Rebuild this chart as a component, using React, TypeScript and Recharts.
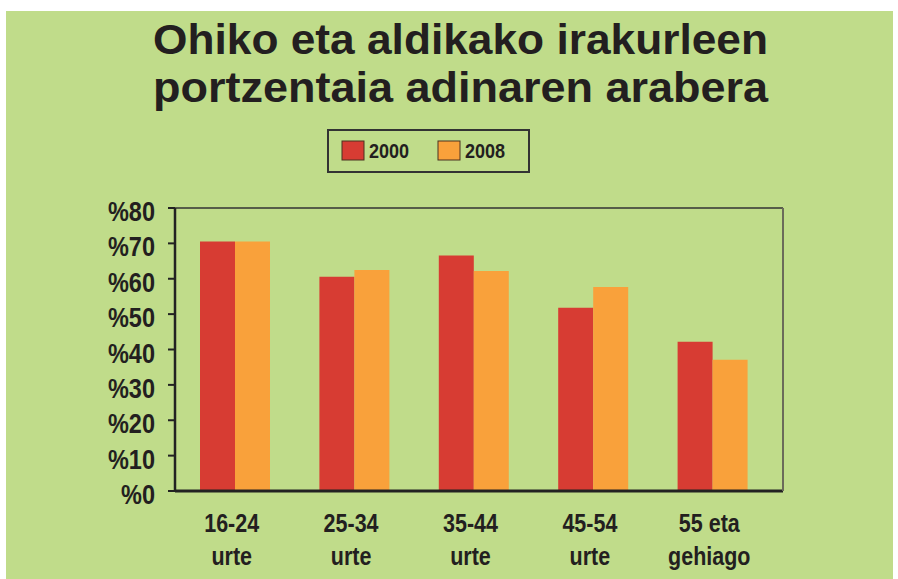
import React from "react";
import { BarChart, Bar, XAxis, YAxis, CartesianGrid } from "recharts";

const categories = ["16-24 urte", "25-34 urte", "35-44 urte", "45-54 urte", "55 eta gehiago"];
const labelLines = [
  ["16-24", "urte"],
  ["25-34", "urte"],
  ["35-44", "urte"],
  ["45-54", "urte"],
  ["55 eta", "gehiago"],
];
const series2000 = [70.5, 60.6, 66.6, 51.8, 42.2];
const series2008 = [70.5, 62.5, 62.2, 57.7, 37.1];
const seriesNames = ["2000", "2008"];
const yTicks = [0, 10, 20, 30, 40, 50, 60, 70, 80];
const titleLines = ["Ohiko eta aldikako irakurleen", "portzentaia adinaren arabera"];

const data = categories.map((c, i) => ({
  name: c,
  lines: labelLines[i],
  s2000: series2000[i],
  s2008: series2008[i],
}));

const FONT = "'Liberation Sans', Arial, Helvetica, sans-serif";
const TEXT = "#231f20";
const RED = "#d73c33";
const ORANGE = "#f9a13b";
const GREEN = "#c0dc8a";

const YTick = (props: any) => {
  const { x, y, payload } = props;
  return (
    <text
      transform={`translate(${x}, ${y + 13}) scale(0.84, 1)`}
      x={0}
      y={0}
      textAnchor="end"
      fontFamily={FONT}
      fontWeight="bold"
      fontSize={28}
      fill={TEXT}
    >
      {`%${payload.value}`}
    </text>
  );
};

const XTick = (props: any) => {
  const { x, y, index } = props;
  const lines = labelLines[index] || [];
  return (
    <g>
      {lines.map((ln: string, i: number) => (
        <text
          key={i}
          transform={`translate(${x - 3}, ${y + 41 + i * 33}) scale(0.86, 1)`}
          x={0}
          y={0}
          textAnchor="middle"
          fontFamily={FONT}
          fontWeight="bold"
          fontSize={25}
          fill={TEXT}
        >
          {ln}
        </text>
      ))}
    </g>
  );
};

export default function App() {
  return (
    <div style={{ position: "absolute", left: 0, top: 0, width: 898, height: 579, background: "#ffffff", overflow: "hidden" }}>
      <div style={{ position: "absolute", left: 6, top: 11, width: 887, height: 568, background: GREEN }} />
      <div style={{ position: "absolute", left: 0, top: 0 }}>
        <BarChart
          width={898}
          height={579}
          data={data}
          margin={{ top: 208, right: 0, bottom: 0, left: 0 }}
          barGap={0}
          barSize={35}
        >
          <CartesianGrid vertical={false} stroke="#333333" strokeWidth={1.3} />
          <XAxis
            dataKey="name"
            axisLine={{ stroke: "#222222", strokeWidth: 3 }}
            tickLine={false}
            tickSize={0}
            tickMargin={0}
            height={88}
            interval={0}
            padding={{ left: 0, right: 11 }}
            tick={<XTick />}
          />
          <YAxis
            yAxisId="left"
            width={175}
            domain={[0, 80]}
            ticks={yTicks}
            interval={0}
            axisLine={{ stroke: "#222222", strokeWidth: 2.5 }}
            tickLine={{ stroke: "#222222", strokeWidth: 2 }}
            tickSize={7}
            tickMargin={13}
            tick={<YTick />}
          />
          <YAxis
            yAxisId="right"
            orientation="right"
            width={115}
            domain={[0, 80]}
            ticks={yTicks}
            tick={false}
            tickLine={false}
            axisLine={{ stroke: "#6b6b5a", strokeWidth: 2 }}
          />
          <Bar yAxisId="left" dataKey="s2000" name={seriesNames[0]} fill={RED} isAnimationActive={false} />
          <Bar yAxisId="left" dataKey="s2008" name={seriesNames[1]} fill={ORANGE} isAnimationActive={false} />
        </BarChart>
      </div>
      <svg
        width={898}
        height={579}
        style={{ position: "absolute", left: 0, top: 0, pointerEvents: "none" }}
      >
        {titleLines.map((t, i) => (
          <text
            key={i}
            x={153}
            y={54 + i * 48}
            textLength={615}
            lengthAdjust="spacingAndGlyphs"
            fontFamily={FONT}
            fontWeight="bold"
            fontSize={42}
            fill={TEXT}
          >
            {t}
          </text>
        ))}
        <rect x={328} y={130} width={201} height={42} fill="none" stroke="#333333" strokeWidth={2} />
        {seriesNames.map((n, i) => {
          const sx = i === 0 ? 342 : 438;
          return (
            <g key={n}>
              <rect x={sx} y={141} width={22} height={19} fill={i === 0 ? RED : ORANGE} stroke="#4a3020" strokeWidth={1} />
              <text
                transform={`translate(${sx + 27}, 158) scale(0.86, 1)`}
                x={0}
                y={0}
                fontFamily={FONT}
                fontWeight="bold"
                fontSize={21}
                fill={TEXT}
              >
                {n}
              </text>
            </g>
          );
        })}
      </svg>
    </div>
  );
}
